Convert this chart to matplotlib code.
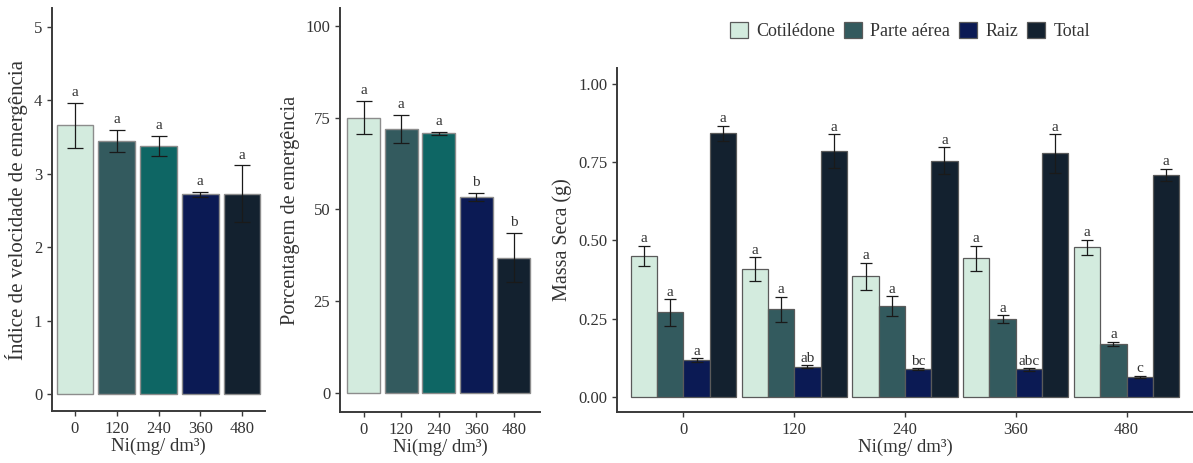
import numpy as np
import matplotlib
matplotlib.use("Agg")
import matplotlib.pyplot as plt
from matplotlib.patches import Patch

plt.rcParams['font.family'] = ['Liberation Serif', 'DejaVu Serif']

# data
doses = ['0', '120', '240', '360', '480']

ive_mean = [3.66, 3.45, 3.38, 2.72, 2.73]
ive_err = [0.31, 0.15, 0.14, 0.03, 0.385]
ive_letters = ['a', 'a', 'a', 'a', 'a']

pe_mean = [75.0, 72.0, 70.7, 53.3, 36.9]
pe_err = [4.5, 3.8, 0.4, 1.1, 6.6]
pe_letters = ['a', 'a', 'a', 'b', 'b']

parts = ['Cotilédone', 'Parte aérea', 'Raiz', 'Total']
cot_mean = [0.450, 0.408, 0.385, 0.443, 0.478]
cot_err = [0.033, 0.039, 0.044, 0.040, 0.025]
pa_mean = [0.270, 0.280, 0.290, 0.248, 0.170]
pa_err = [0.043, 0.040, 0.032, 0.013, 0.006]
raiz_mean = [0.118, 0.097, 0.088, 0.088, 0.065]
raiz_err = [0.005, 0.004, 0.003, 0.004, 0.003]
total_mean = [0.843, 0.785, 0.755, 0.778, 0.710]
total_err = [0.024, 0.055, 0.043, 0.062, 0.019]
cot_letters = ['a', 'a', 'a', 'a', 'a']
pa_letters = ['a', 'a', 'a', 'a', 'a']
raiz_letters = ['a', 'ab', 'bc', 'abc', 'c']
total_letters = ['a', 'a', 'a', 'a', 'a']

# colours
c_cot = '#d3ebde'
c_pa = '#335a5e'
c_teal = '#0e6664'
c_raiz = '#0b1a54'
c_total = '#13212f'
dose_colors = [c_cot, c_pa, c_teal, c_raiz, c_total]
part_colors = [c_cot, c_pa, c_raiz, c_total]

W, H = 1193, 463
fig = plt.figure(figsize=(W / 100, H / 100), dpi=100)


def px_axes(left, right, top, bottom):
    return fig.add_axes([left / W, (H - bottom) / H, (right - left) / W, (bottom - top) / H])


def style(ax):
    for s in ['top', 'right']:
        ax.spines[s].set_visible(False)
    for s in ['left', 'bottom']:
        ax.spines[s].set_color('#3a3a3a')
        ax.spines[s].set_linewidth(1.4)
    ax.tick_params(axis='both', colors='#3a3a3a', length=3.5, width=1,
                   labelsize=12, labelcolor='#333333')
    ax.set_xlabel('Ni(mg/ dm³)', fontsize=13.5, color='#333333', labelpad=1)


# 1. Índice de velocidade de emergência
ax1 = px_axes(52, 265, 8, 411)
x = np.arange(len(doses))
ax1.bar(x, ive_mean, width=0.88, color=dose_colors, edgecolor='#8c8c8c', linewidth=1)
ax1.errorbar(x, ive_mean, yerr=ive_err, fmt='none', ecolor='#1a1a1a', elinewidth=0.9, capsize=6, capthick=0.9)
for xi, m, e, lab in zip(x, ive_mean, ive_err, ive_letters):
    ax1.annotate(lab, (xi, m + e), xytext=(0, 5), textcoords='offset points',
                 ha='center', va='baseline', fontsize=11, color='#333333')
ax1.set_xlim(-0.55, 4.55)
ax1.set_ylim(-0.23, 5.26)
ax1.set_xticks(x)
ax1.set_xticklabels(doses)
ax1.set_yticks([0, 1, 2, 3, 4, 5])
ax1.set_ylabel('Índice de velocidade de emergência', fontsize=15, color='#333333', labelpad=4)
style(ax1)

# 2. Porcentagem de emergência
ax2 = px_axes(340, 540, 8, 412)
ax2.bar(x, pe_mean, width=0.88, color=dose_colors, edgecolor='#8c8c8c', linewidth=1)
ax2.errorbar(x, pe_mean, yerr=pe_err, fmt='none', ecolor='#1a1a1a', elinewidth=0.9, capsize=5.5, capthick=0.9)
for xi, m, e, lab in zip(x, pe_mean, pe_err, pe_letters):
    ax2.annotate(lab, (xi, m + e), xytext=(0, 5), textcoords='offset points',
                 ha='center', va='baseline', fontsize=11, color='#333333')
ax2.set_xlim(-0.63, 4.7)
ax2.set_ylim(-5.2, 104.9)
ax2.set_xticks(x)
ax2.set_xticklabels(doses)
ax2.set_yticks([0, 25, 50, 75, 100])
ax2.set_ylabel('Porcentagem de emergência', fontsize=14.7, color='#333333', labelpad=4)
style(ax2)

# 3. Massa seca por parte da planta
ax3 = px_axes(617, 1193, 68, 412)
means = [cot_mean, pa_mean, raiz_mean, total_mean]
errs = [cot_err, pa_err, raiz_err, total_err]
letters = [cot_letters, pa_letters, raiz_letters, total_letters]
bw = 0.95 / 4
for k in range(4):
    xs = x - 0.95 / 2 + bw * (k + 0.5)
    ax3.bar(xs, means[k], width=bw, color=part_colors[k], edgecolor='#5a5a5a', linewidth=0.9)
    ax3.errorbar(xs, means[k], yerr=errs[k], fmt='none', ecolor='#1a1a1a', elinewidth=0.9, capsize=4, capthick=0.9)
    for xi, m, e, lab in zip(xs, means[k], errs[k], letters[k]):
        ax3.annotate(lab, (xi, m + e), xytext=(0, 2.5), textcoords='offset points',
                     ha='center', va='baseline', fontsize=11, color='#333333')
ax3.set_xlim(-0.6, 4.6)
ax3.set_ylim(-0.048, 1.051)
ax3.set_xticks(x)
ax3.set_xticklabels(doses)
ax3.set_yticks([0, 0.25, 0.5, 0.75, 1.0])
ax3.set_yticklabels(['0.00', '0.25', '0.50', '0.75', '1.00'])
ax3.set_ylabel('Massa Seca (g)', fontsize=14.5, color='#333333', labelpad=4)
style(ax3)

handles = [Patch(facecolor=c, edgecolor='#5a5a5a', linewidth=0.9, label=p) for c, p in zip(part_colors, parts)]
fig.legend(handles=handles, loc='center', bbox_to_anchor=(910 / W, 1 - 31 / H), ncol=4,
           frameon=False, fontsize=13, handlelength=1.0, handleheight=1.0,
           handletextpad=0.45, columnspacing=0.5, labelcolor='#333333')

fig.savefig('out.png', dpi=100)
